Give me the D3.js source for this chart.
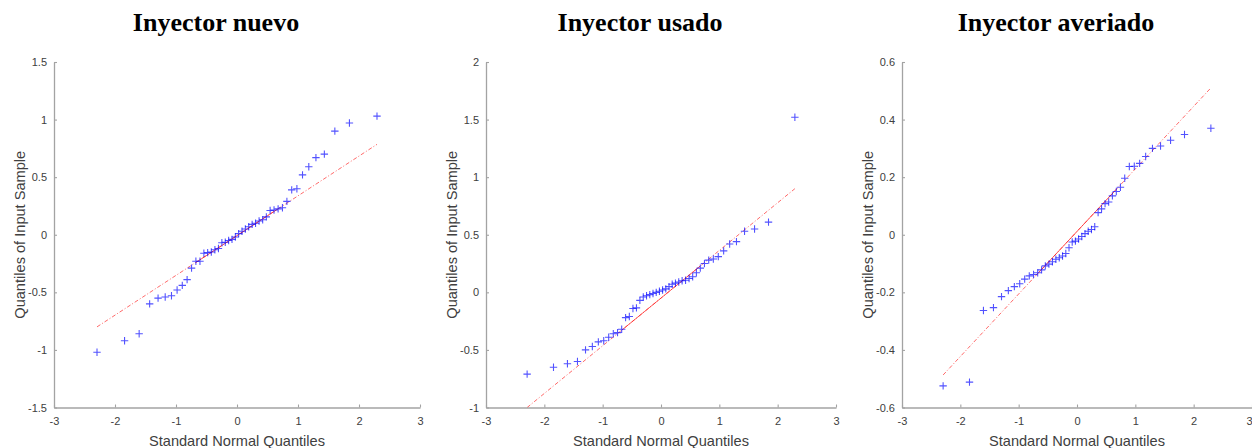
<!DOCTYPE html>
<html>
<head>
<meta charset="utf-8">
<script src="https://cdn.jsdelivr.net/npm/d3@7"></script>
<style>
  html, body { margin: 0; padding: 0; background: #fff; }
  svg { display: block; }
</style>
</head>
<body>
<svg id="chart" width="1252" height="448"></svg>
<script>
// Theoretical standard normal quantiles shared by the three samples (n = 46)
const normalQuantiles = [
  -2.295, -1.843, -1.604, -1.432, -1.294, -1.177, -1.074, -0.982, -0.897, -0.818,
  -0.745, -0.674, -0.607, -0.543, -0.481, -0.421, -0.362, -0.304, -0.248, -0.192,
  -0.137, -0.082, -0.027, 0.027, 0.082, 0.137, 0.192, 0.248, 0.304, 0.362,
  0.421, 0.481, 0.543, 0.607, 0.674, 0.745, 0.818, 0.897, 0.982, 1.074,
  1.177, 1.294, 1.432, 1.604, 1.843, 2.295
];

// Sorted sample quantiles for each injector
const nuevo = [
  -1.02, -0.92, -0.86, -0.60, -0.55, -0.54, -0.53, -0.48, -0.44, -0.39,
  -0.29, -0.23, -0.23, -0.16, -0.155, -0.15, -0.13, -0.12, -0.07, -0.065,
  -0.05, -0.04, -0.02, 0.01, 0.03, 0.05, 0.07, 0.09, 0.10, 0.12,
  0.13, 0.155, 0.21, 0.215, 0.225, 0.235, 0.29, 0.39, 0.40, 0.52,
  0.59, 0.67, 0.70, 0.90, 0.97, 1.03
];
const usado = [
  -0.71, -0.65, -0.62, -0.60, -0.50, -0.47, -0.43, -0.42, -0.39, -0.36,
  -0.35, -0.32, -0.22, -0.21, -0.14, -0.135, -0.07, -0.04, -0.03, -0.02,
  -0.01, 0.00, 0.01, 0.02, 0.03, 0.05, 0.07, 0.08, 0.09, 0.10,
  0.105, 0.12, 0.135, 0.17, 0.21, 0.25, 0.28, 0.29, 0.31, 0.36,
  0.42, 0.44, 0.53, 0.55, 0.61, 1.52
];
const averiado = [
  -0.525, -0.512, -0.263, -0.253, -0.215, -0.194, -0.18, -0.17, -0.154, -0.143,
  -0.138, -0.132, -0.122, -0.108, -0.102, -0.094, -0.085, -0.08, -0.074, -0.065,
  -0.045, -0.025, -0.022, -0.015, -0.006, 0.004, 0.012, 0.018, 0.028, 0.077,
  0.09, 0.108, 0.114, 0.135, 0.15, 0.165, 0.196, 0.237, 0.238, 0.248,
  0.272, 0.30, 0.308, 0.328, 0.348, 0.37
];

// Reference line endpoints (x, y) over the data range
const fitNuevo = [[-2.295, -0.80], [2.295, 0.785]];
const fitUsado = [[-2.295, -1.00], [2.295, 0.90]];
const fitAveriado = [[-2.295, -0.487], [2.295, 0.51]];

// Interquartile span where the reference line is drawn solid
const quartileSpan = [-0.674, 0.674];

const titles = ["Inyector nuevo", "Inyector usado", "Inyector averiado"];
const xLabel = "Standard Normal Quantiles";
const yLabel = "Quantiles of Input Sample";

const xTicks = [-3, -2, -1, 0, 1, 2, 3];
const xTickLabels = ["-3", "-2", "-1", "0", "1", "2", "3"];
const yTicksNuevo = [-1.5, -1, -0.5, 0, 0.5, 1, 1.5];
const yTickLabelsNuevo = ["-1.5", "-1", "-0.5", "0", "0.5", "1", "1.5"];
const yTicksUsado = [-1, -0.5, 0, 0.5, 1, 1.5, 2];
const yTickLabelsUsado = ["-1", "-0.5", "0", "0.5", "1", "1.5", "2"];
const yTicksAveriado = [-0.6, -0.4, -0.2, 0, 0.2, 0.4, 0.6];
const yTickLabelsAveriado = ["-0.6", "-0.4", "-0.2", "0", "0.2", "0.4", "0.6"];

const panels = [
  { title: titles[0], values: nuevo, fit: fitNuevo, yTicks: yTicksNuevo, yLabels: yTickLabelsNuevo,
    left: 54, right: 420, titleX: 216 },
  { title: titles[1], values: usado, fit: fitUsado, yTicks: yTicksUsado, yLabels: yTickLabelsUsado,
    left: 486, right: 836, titleX: 640 },
  { title: titles[2], values: averiado, fit: fitAveriado, yTicks: yTicksAveriado, yLabels: yTickLabelsAveriado,
    left: 902, right: 1252, titleX: 1056 }
];

const width = 1252;
const plotTop = 62, plotBottom = 407.5;
const svg = d3.select("#chart");

const axisColor = "#a3a3a3";
const textColor = "#404040";
const sansFont = "'Liberation Sans', Arial, Helvetica, sans-serif";
const serifFont = "'Liberation Serif', 'Times New Roman', serif";

panels.forEach((p, idx) => {
  const x = d3.scaleLinear().domain([-3, 3]).range([p.left, p.right]);
  const yDomain = d3.extent(p.yTicks);
  const y = d3.scaleLinear().domain(yDomain).range([plotBottom, plotTop]);

  const g = svg.append("g");

  // Title
  svg.append("text")
    .attr("x", p.titleX).attr("y", 30.5)
    .attr("text-anchor", "middle")
    .style("font-family", serifFont)
    .style("font-weight", "bold")
    .style("font-size", "26px")
    .attr("fill", "#000")
    .text(p.title);

  // Axes (MATLAB style: inward ticks, left and bottom only)
  const xAxis = d3.axisBottom(x)
    .tickValues(xTicks)
    .tickFormat((d, i) => xTickLabels[i])
    .tickSizeInner(-3).tickSizeOuter(0).tickPadding(11);
  const yAxis = d3.axisLeft(y)
    .tickValues(p.yTicks)
    .tickFormat((d, i) => p.yLabels[i])
    .tickSizeInner(-3).tickSizeOuter(0).tickPadding(7);

  const gx = g.append("g").attr("transform", `translate(0,${plotBottom})`).call(xAxis);
  const gy = g.append("g").attr("transform", `translate(${p.left},0)`).call(yAxis);

  [gx, gy].forEach(ax => {
    ax.select(".domain").attr("stroke", axisColor).attr("stroke-width", 1.3);
    ax.selectAll(".tick line").attr("stroke", axisColor).attr("stroke-width", 1.1);
    ax.selectAll(".tick text")
      .attr("fill", textColor)
      .style("font-family", sansFont)
      .style("font-size", "11px");
  });
  // keep x-axis labels clear of inward ticks; the label at the page edge hugs it
  gx.selectAll(".tick text")
    .attr("y", 10).attr("dy", "0.71em")
    .attr("text-anchor", d => (x(d) + 4 > width ? "end" : "middle"));

  // Axis titles
  g.append("text")
    .attr("x", x(0)).attr("y", 446)
    .attr("text-anchor", "middle")
    .attr("fill", textColor)
    .style("font-family", sansFont)
    .style("font-size", "14.6px")
    .text(xLabel);
  g.append("text")
    .attr("transform", `translate(${p.left - 29},${(plotTop + plotBottom) / 2}) rotate(-90)`)
    .attr("text-anchor", "middle")
    .attr("fill", textColor)
    .style("font-family", sansFont)
    .style("font-size", "14.6px")
    .text(yLabel);

  // Clip region for plot content
  const clipId = "clip" + idx;
  svg.append("clipPath").attr("id", clipId)
    .append("rect").attr("x", p.left).attr("y", plotTop - 10)
    .attr("width", p.right - p.left).attr("height", plotBottom - plotTop + 10);

  const plot = g.append("g").attr("clip-path", `url(#${clipId})`);

  // Reference line: dash-dot across data range, solid between quartiles
  const [[fx0, fy0], [fx1, fy1]] = p.fit;
  const lineAt = d3.scaleLinear().domain([fx0, fx1]).range([fy0, fy1]);
  plot.append("line")
    .attr("x1", x(fx0)).attr("y1", y(fy0))
    .attr("x2", x(fx1)).attr("y2", y(fy1))
    .attr("stroke", "#ff1a1a").attr("stroke-opacity", 0.65)
    .attr("stroke-width", 1)
    .attr("stroke-dasharray", "4,2,1,2");
  plot.append("line")
    .attr("x1", x(quartileSpan[0])).attr("y1", y(lineAt(quartileSpan[0])))
    .attr("x2", x(quartileSpan[1])).attr("y2", y(lineAt(quartileSpan[1])))
    .attr("stroke", "#ff1a1a").attr("stroke-opacity", 0.7)
    .attr("stroke-width", 1);

  // Sample points as '+' markers
  const pts = normalQuantiles.map((q, i) => [q, p.values[i]]);
  const arm = 3.7;
  const markers = plot.append("g")
    .attr("stroke", "#0000ff")
    .attr("stroke-opacity", 0.68)
    .attr("stroke-width", 1.1)
    .attr("fill", "none");
  markers.selectAll("path")
    .data(pts)
    .join("path")
    .attr("d", d => {
      const cx = x(d[0]), cy = y(d[1]);
      return `M${cx - arm},${cy}H${cx + arm}M${cx},${cy - arm}V${cy + arm}`;
    });
});
</script>
</body>
</html>
